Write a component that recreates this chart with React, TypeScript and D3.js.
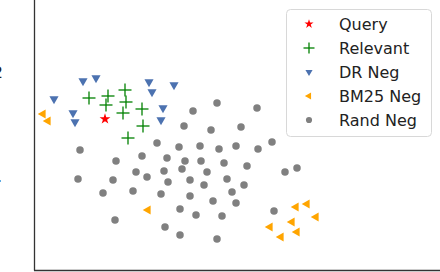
import React from "react";
import * as d3 from "d3";

// embedding coordinates
const queryPts = [[-3.0, 0.1]];
const relevantPts = [
  [-4.6, 2.2], [-2.7, 2.4], [-1.0, 3.0], [-0.9, 1.8], [-2.9, 1.5],
  [-1.2, 0.7], [0.7, 1.1], [0.8, -0.6], [-0.7, -1.8],
];
const drNegPts = [
  [-8.1, 2.1], [-5.2, 3.9], [-3.9, 4.2], [-6.2, 0.7], [-6.0, -0.2],
  [1.4, 3.8], [3.9, 3.5], [1.7, 2.8], [2.8, 1.2], [2.6, 0.0],
];
const bm25NegPts = [
  [-9.2, 0.6], [-8.7, -0.1], [1.3, -9.0], [16.1, -8.7], [17.2, -8.4],
  [18.1, -9.7], [15.7, -10.2], [13.5, -10.7], [16.2, -11.2], [14.6, -11.7],
];
const randNegPts = [
  [8.2, 1.7], [12.2, 1.2], [5.8, 0.9], [4.9, -0.6], [7.6, -1.0],
  [10.6, -0.7], [2.2, -2.3], [4.4, -2.7], [6.5, -2.6], [8.4, -2.9],
  [10.1, -2.6], [12.3, -2.9], [13.7, -2.2], [-5.5, -3.0], [-1.9, -4.1],
  [0.7, -3.6], [3.2, -3.8], [5.0, -4.1], [6.6, -4.1], [8.9, -4.3],
  [11.2, -4.6], [0.1, -5.2], [1.2, -5.7], [2.9, -5.1], [4.7, -4.9],
  [7.2, -5.2], [15.0, -5.2], [16.2, -4.8], [-5.7, -5.9], [-2.2, -6.0],
  [3.3, -6.2], [5.5, -6.0], [6.9, -6.5], [9.2, -5.9], [10.9, -6.5],
  [-3.2, -7.3], [-0.2, -7.1], [2.6, -7.4], [5.5, -7.6], [7.8, -8.1],
  [9.7, -7.2], [10.1, -8.3], [4.5, -8.9], [6.1, -9.5], [8.7, -9.6],
  [13.9, -9.1], [-2.0, -10.0], [3.0, -10.7], [4.5, -11.5], [8.2, -11.9],
];
const legendLabels = ["Query", "Relevant", "DR Neg", "BM25 Neg", "Rand Neg"];

const W = 440;
const H = 272;
const x = d3.scaleLinear().domain([-10, 30]).range([35, 435]);
const y = d3.scaleLinear().domain([-15, 12]).range([270, 0]);

const starPath = d3.symbol().type(d3.symbolStar).size(36)();
const starSmall = d3.symbol().type(d3.symbolStar).size(26)();
const triPath = d3.symbol().type(d3.symbolTriangle).size(36)();
const triSmall = d3.symbol().type(d3.symbolTriangle).size(22)();
const circPath = d3.symbol().type(d3.symbolCircle).size(44)();
const circSmall = d3.symbol().type(d3.symbolCircle).size(30)();

const Plus = ({ cx, cy, r }) => (
  <g transform={`translate(${cx},${cy})`} stroke="green" strokeWidth={1.3}>
    <line x1={-r} x2={r} y1={0} y2={0} />
    <line x1={0} x2={0} y1={-r} y2={r} />
  </g>
);

const markers = [
  (cx, cy) => <path d={starSmall} transform={`translate(${cx},${cy})`} fill="red" />,
  (cx, cy) => <Plus cx={cx} cy={cy} r={5.5} />,
  (cx, cy) => <path d={triSmall} transform={`translate(${cx},${cy}) rotate(180)`} fill="#4c72b0" />,
  (cx, cy) => <path d={triSmall} transform={`translate(${cx},${cy}) rotate(-90)`} fill="orange" />,
  (cx, cy) => <path d={circSmall} transform={`translate(${cx},${cy})`} fill="grey" />,
];

const App = () => {
  return (
    <svg
      width={W}
      height={H}
      style={{ position: "absolute", left: 0, top: 0, fontFamily: "DejaVu Sans" }}
    >
      <rect width={W} height={H} fill="white" />
      {/* cut-off tick labels at the left edge */}
      <text x={3} y={78} textAnchor="end" fontSize={16} fill="#222">2</text>
      <text x={2} y={182} textAnchor="end" fontSize={16} fill="#222">.</text>

      <g>
        {randNegPts.map((d, i) => (
          <path key={i} d={circPath} transform={`translate(${x(d[0])},${y(d[1])})`} fill="grey" />
        ))}
        {bm25NegPts.map((d, i) => (
          <path key={i} d={triPath} transform={`translate(${x(d[0])},${y(d[1])}) rotate(-90)`} fill="orange" />
        ))}
        {drNegPts.map((d, i) => (
          <path key={i} d={triPath} transform={`translate(${x(d[0])},${y(d[1])}) rotate(180)`} fill="#4c72b0" />
        ))}
        {relevantPts.map((d, i) => (
          <Plus key={i} cx={x(d[0])} cy={y(d[1])} r={6.5} />
        ))}
        {queryPts.map((d, i) => (
          <path key={i} d={starPath} transform={`translate(${x(d[0])},${y(d[1])})`} fill="red" />
        ))}
      </g>

      {/* spines */}
      <line x1={34.5} x2={34.5} y1={0} y2={270.5} stroke="#333" strokeWidth={1.3} />
      <line x1={34} x2={W} y1={270.5} y2={270.5} stroke="#333" strokeWidth={1.3} />

      {/* legend */}
      <g transform="translate(286,9)">
        <rect x={0.5} y={0.5} width={145} height={127} rx={4} fill="white" fillOpacity={0.8} stroke="#d8d8d8" />
        {legendLabels.map((lab, i) => (
          <g key={lab} transform={`translate(0,${15 + i * 24})`}>
            {markers[i](23, 0)}
            <text x={53} y={0} dy="0.36em" fontSize={16} fill="#222">{lab}</text>
          </g>
        ))}
      </g>
    </svg>
  );
};

export default App;
